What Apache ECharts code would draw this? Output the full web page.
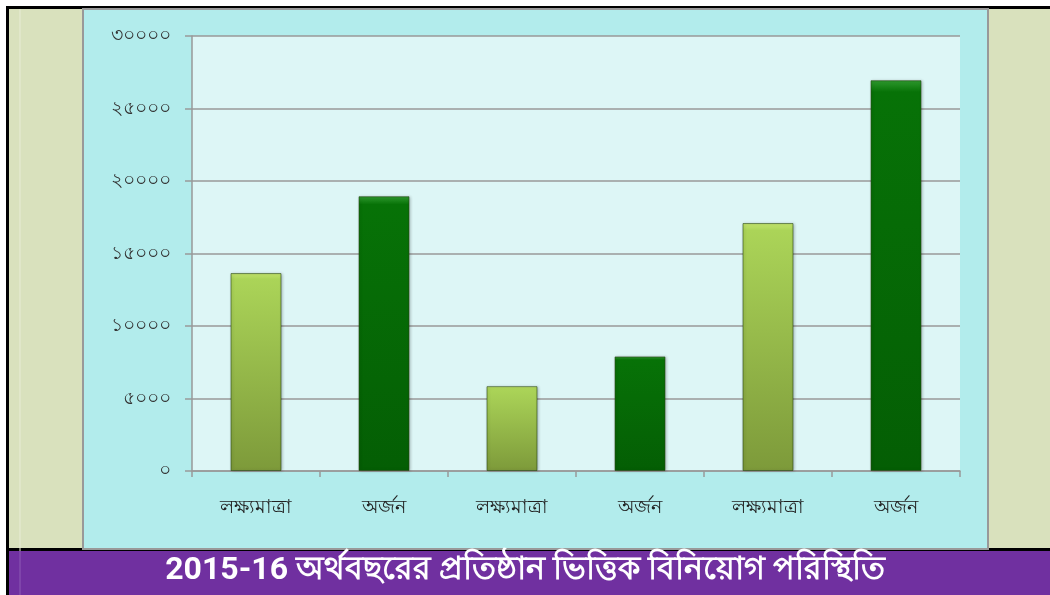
<!DOCTYPE html>
<html>
<head>
<meta charset="utf-8">
<script src="https://cdn.jsdelivr.net/npm/echarts@6/dist/echarts.min.js"></script>
<style>
  html, body { margin: 0; padding: 0; background: #fff; }
  #chart { width: 1050px; height: 595px; }
</style>
</head>
<body>
<div id="chart"></div>
<script>
const categories = ['লক্ষ্যমাত্রা', 'অর্জন', 'লক্ষ্যমাত্রা', 'অর্জন', 'লক্ষ্যমাত্রা', 'অর্জন']
const values = [13650, 18950, 5850, 7900, 17100, 26950]
const yTicks = { 0: '০', 5000: '৫০০০', 10000: '১০০০০', 15000: '১৫০০০', 20000: '২০০০০', 25000: '২৫০০০', 30000: '৩০০০০' }
const title = '2015-16 অর্থবছরের প্রতিষ্ঠান ভিত্তিক বিনিয়োগ পরিস্থিতি'

const lightGreen = new echarts.graphic.LinearGradient(0, 0, 0, 1, [
    { offset: 0, color: '#c4e56e' },
    { offset: 0.03, color: '#abd458' },
    { offset: 1, color: '#7d9a3a' }
])
const darkGreen = new echarts.graphic.LinearGradient(0, 0, 0, 1, [
    { offset: 0, color: '#2f9a2f' },
    { offset: 0.03, color: '#077207' },
    { offset: 1, color: '#045e04' }
])

const chart = echarts.init(document.getElementById('chart'))

const option = {
    backgroundColor: '#ffffff',
    animation: false,
    title: {
        text: title,
        left: 'center',
        top: 550,
        textStyle: {
            color: '#ffffff',
            fontSize: 32,
            fontWeight: 'bold',
            fontFamily: 'Roboto, "Noto Sans", sans-serif'
        }
    },
    graphic: [
        // outer frame
        { type: 'rect', z: -10, shape: { x: 6, y: 6, width: 1044, height: 589 }, style: { fill: '#000' } },
        // beige side strips
        { type: 'rect', z: -9, shape: { x: 9, y: 9, width: 1041, height: 539 }, style: { fill: '#d9e1bd' } },
        { type: 'line', z: -8, shape: { x1: 20, y1: 9, x2: 20, y2: 595 }, style: { stroke: '#e8ecd6', lineWidth: 1 } },
        // cyan panel
        { type: 'rect', z: -7, shape: { x: 83, y: 9, width: 905, height: 540 }, style: { fill: '#b2ecec', stroke: '#999', lineWidth: 2 } },
        // purple title bar
        { type: 'rect', z: -7, shape: { x: 9, y: 551, width: 1041, height: 44 }, style: { fill: '#7030a0' } },
        { type: 'line', z: -6, shape: { x1: 20, y1: 551, x2: 20, y2: 595 }, style: { stroke: '#8d5ab5', lineWidth: 1 } }
    ],
    grid: {
        left: 192,
        right: 90,
        top: 36,
        bottom: 124,
        show: true,
        backgroundColor: '#ddf6f6',
        borderWidth: 0
    },
    xAxis: {
        type: 'category',
        data: categories,
        axisLine: { lineStyle: { color: '#999', width: 1.5 } },
        axisTick: { show: true, length: 6, lineStyle: { color: '#999', width: 1.5 } },
        axisLabel: {
            margin: 27,
            color: '#222',
            fontSize: 19
        }
    },
    yAxis: {
        type: 'value',
        min: 0,
        max: 30000,
        interval: 5000,
        axisLine: { show: true, lineStyle: { color: '#999', width: 1.5 } },
        axisTick: { show: true, length: 7, lineStyle: { color: '#999', width: 1.5 } },
        splitLine: { lineStyle: { color: '#999', width: 1.5 } },
        axisLabel: {
            margin: 21,
            color: '#333',
            fontSize: 19,
            formatter: v => yTicks[v]
        }
    },
    series: [
        {
            type: 'bar',
            barWidth: 51,
            data: values,
            itemStyle: {
                color: p => (p.dataIndex % 2 === 0 ? lightGreen : darkGreen),
                borderColor: 'rgba(40,70,20,0.6)',
                borderWidth: 1,
                shadowColor: 'rgba(0,0,0,0.25)',
                shadowBlur: 3,
                shadowOffsetX: 1
            }
        }
    ]
}

chart.setOption(option)
</script>
</body>
</html>
